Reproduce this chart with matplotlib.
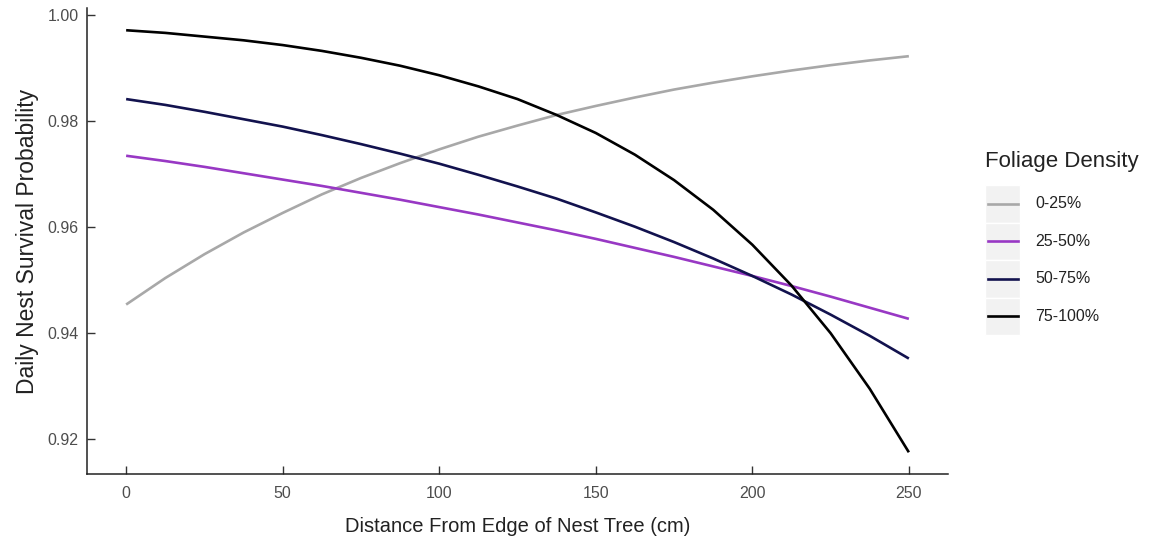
import matplotlib
matplotlib.use("Agg")
import matplotlib.pyplot as plt
from matplotlib.lines import Line2D
from matplotlib.patches import Rectangle

plt.rcParams['font.family'] = ['Liberation Sans', 'DejaVu Sans']

# ---- data ----
distance = [0, 12.5, 25, 37.5, 50, 62.5, 75, 87.5, 100, 112.5, 125, 137.5,
            150, 162.5, 175, 187.5, 200, 212.5, 225, 237.5, 250]

categories = ["0-25%", "25-50%", "50-75%", "75-100%"]

surv_0_25 = [0.9453, 0.9503, 0.9548, 0.9589, 0.9626, 0.9661, 0.9692, 0.9720,
             0.9746, 0.9770, 0.9791, 0.9811, 0.9828, 0.9844, 0.9859, 0.9872,
             0.9884, 0.9895, 0.9905, 0.9914, 0.9922]
surv_25_50 = [0.9734, 0.9724, 0.9713, 0.9701, 0.9689, 0.9677, 0.9664, 0.9651,
              0.9637, 0.9623, 0.9608, 0.9593, 0.9577, 0.9560, 0.9543, 0.9525,
              0.9507, 0.9488, 0.9468, 0.9447, 0.9426]
surv_50_75 = [0.9841, 0.9830, 0.9817, 0.9803, 0.9789, 0.9773, 0.9756, 0.9738,
              0.9719, 0.9698, 0.9676, 0.9653, 0.9627, 0.9600, 0.9571, 0.9540,
              0.9507, 0.9472, 0.9434, 0.9394, 0.9351]
surv_75_100 = [0.9971, 0.9966, 0.9959, 0.9952, 0.9943, 0.9932, 0.9919, 0.9904,
               0.9886, 0.9865, 0.9841, 0.9811, 0.9777, 0.9736, 0.9688, 0.9632,
               0.9566, 0.9489, 0.9399, 0.9294, 0.9174]

series = [surv_0_25, surv_25_50, surv_50_75, surv_75_100]
colors = ["#A8A8A8", "#9838C4", "#12124E", "#000000"]

x_ticks = [0, 50, 100, 150, 200, 250]
y_ticks = [0.92, 0.94, 0.96, 0.98, 1.00]

# ---- figure ----
W, H = 1158, 543
fig = plt.figure(figsize=(W / 100, H / 100), dpi=100)
ax = fig.add_axes([87 / W, 1 - 474 / H, (948 - 87) / W, (474 - 8) / H])

for vals, col, lab in zip(series, colors, categories):
    ax.plot(distance, vals, color=col, lw=1.9, label=lab,
            solid_capstyle='butt', solid_joinstyle='round')

ax.set_xlim(-12.5, 262.5)
ax.set_ylim(0.9133, 1.0013)
ax.set_xticks(x_ticks)
ax.set_xticklabels([str(t) for t in x_ticks])
ax.set_yticks(y_ticks)
ax.set_yticklabels([f"{t:.2f}" for t in y_ticks])

for s in ["top", "right"]:
    ax.spines[s].set_visible(False)
for s in ["left", "bottom"]:
    ax.spines[s].set_linewidth(1.1)
    ax.spines[s].set_color("#222222")

ax.tick_params(direction='in', length=6, width=1.0, color="#333333",
               labelsize=11.5, labelcolor="#4D4D4D")
ax.tick_params(axis='x', pad=9)
ax.tick_params(axis='y', pad=6)

ax.set_xlabel("Distance From Edge of Nest Tree (cm)", fontsize=14.5,
              color="#222222", labelpad=11)
ax.set_ylabel("Daily Nest Survival Probability", fontsize=16.5,
              color="#222222", labelpad=6)

# ---- legend (ggplot-style keys) ----
def px(x, y):
    return (x / W, 1 - y / H)

fig.text(*px(985, 162), "Foliage Density", fontsize=16, color="#222222",
         ha='left', va='center')
key_top = 185
key_h = 37.5
for i, (col, lab) in enumerate(zip(colors, categories)):
    y0 = key_top + i * key_h
    x0, y0f = px(985, y0 + key_h)
    fig.add_artist(Rectangle((x0, y0f), 35 / W, key_h / H,
                             transform=fig.transFigure, facecolor="#F2F2F2",
                             edgecolor="white", lw=1.0))
    yc = y0 + key_h / 2
    fig.add_artist(Line2D([988 / W, 1018 / W], [1 - yc / H, 1 - yc / H],
                          transform=fig.transFigure, color=col, lw=1.9))
    fig.text(*px(1035, yc), lab, fontsize=11.5, color="#222222",
             ha='left', va='center')

fig.savefig("out.png", dpi=100)
